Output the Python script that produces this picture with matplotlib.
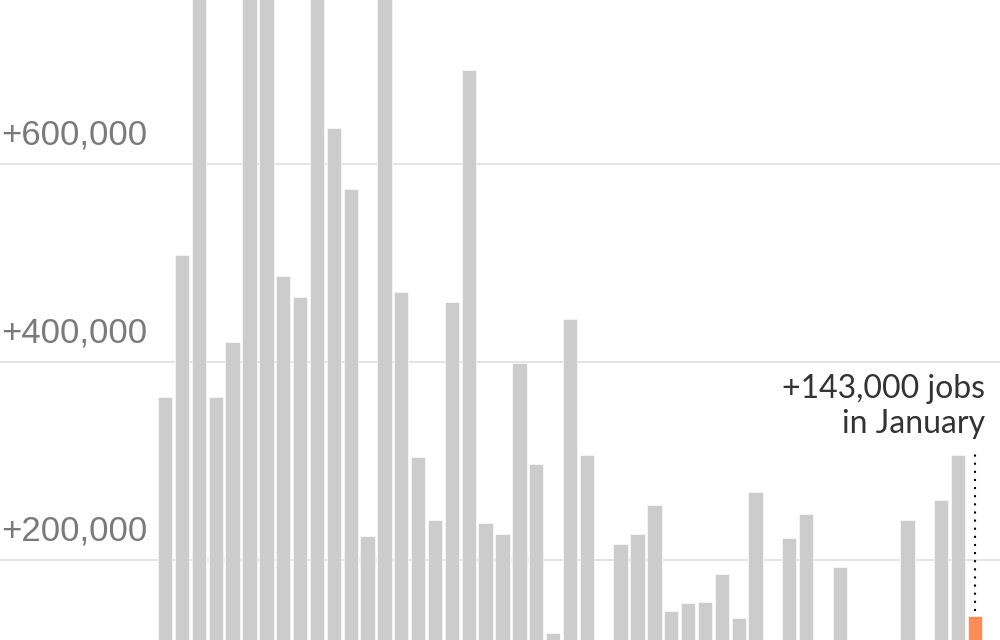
import matplotlib.pyplot as plt

# monthly job gains, Jan 2021 - Jan 2025 (bars above the top are clipped)
values = [365000, 508000, 840000, 365000, 420000, 960000, 1090000, 487000, 466000, 820000,
          636000, 575000, 224000, 790000, 471000, 304000, 240000, 461000, 695000, 237000,
          226000, 399000, 297000, 126000, 443000, 306000, 100000, 216000, 226000, 256000,
          148000, 157000, 158000, 186000, 141000, 269000, 110000, 222000, 246000, 90000,
          193000, 105000, 88000, 78000, 240000, 43000, 261000, 306000, 143000]
tick_values = [200000, 400000, 600000]
tick_labels = ['+200,000', '+400,000', '+600,000']
note_lines = ['+143,000 jobs', 'in January']

gray = '#cccccc'
orange = '#fd8d57'

fig = plt.figure(figsize=(10, 6.4), dpi=100)
ax = fig.add_axes([0, 0, 1, 1])

x = list(range(len(values)))
colors = [gray] * (len(values) - 1) + [orange]
ax.bar(x, values, width=0.85, color=colors, edgecolor='white', linewidth=0.4, zorder=2)

ax.set_xlim(-9.79, 49.49)
ax.set_ylim(119192, 765657)

# gridlines + labels
for v, lab in zip(tick_values, tick_labels):
    ax.axhline(v, color='#dddddd', lw=1.1, zorder=1)
    ax.annotate(lab, xy=(0.001, v), xycoords=('axes fraction', 'data'),
                xytext=(0, 14.4), textcoords='offset points', va='baseline', ha='left',
                fontsize=25, color='#7a7a7a', family='Liberation Sans')

# dotted leader to the last bar
ax.vlines(x[-1], values[-1] + 5000, 310000, color='black', lw=1.5,
          linestyles=(0, (1, 2.9)), zorder=3)
ax.text(0.985, 1 - 398.5 / 640, note_lines[0], transform=ax.transAxes, ha='right',
        va='baseline', fontsize=23, color='#333333', family='Lato')
ax.text(0.985, 1 - 433 / 640, note_lines[1], transform=ax.transAxes, ha='right',
        va='baseline', fontsize=23, color='#333333', family='Lato')

ax.axis('off')
fig.savefig('out.png', dpi=100)
